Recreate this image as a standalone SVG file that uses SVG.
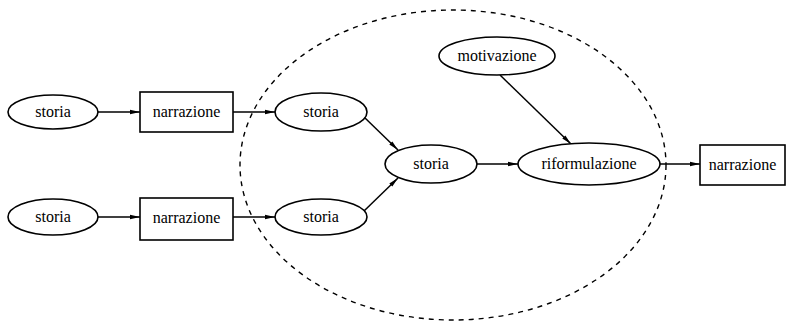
<svg xmlns="http://www.w3.org/2000/svg" width="787" height="321" viewBox="0 0 787 321">
<defs>
<style>
.n{fill:#fff;stroke:#000;stroke-width:1.6}
.t{font-family:"Liberation Serif",serif;font-size:16px;text-anchor:middle;fill:#000}
.c{stroke:#000;stroke-width:1.5;fill:none;marker-end:url(#a)}
</style>
<marker id="a" viewBox="0 0 10 6" refX="10" refY="3" markerWidth="10" markerHeight="6" markerUnits="userSpaceOnUse" orient="auto">
<path d="M0,0.8 L10,3 L0,5.2 Z" fill="#000"/>
</marker>
</defs>
<rect width="787" height="321" fill="#fff"/>
<ellipse cx="453" cy="165" rx="213" ry="155" fill="none" stroke="#000" stroke-width="1.4" stroke-dasharray="5,5"/>
<g id="connectors">
<line class="c" x1="98" y1="112" x2="140" y2="112"/>
<line class="c" x1="233" y1="112" x2="275" y2="112"/>
<line class="c" x1="98" y1="217" x2="140" y2="217"/>
<line class="c" x1="233" y1="217" x2="275" y2="217"/>
<line class="c" x1="364" y1="117" x2="398" y2="150"/>
<line class="c" x1="364" y1="211" x2="398" y2="178"/>
<line class="c" x1="477" y1="164" x2="518" y2="164"/>
<line class="c" x1="500" y1="75" x2="571" y2="144"/>
<line class="c" x1="660" y1="164" x2="700" y2="164"/>
</g>
<g id="storia1"><ellipse class="n" cx="53" cy="112" rx="45" ry="17"/><text class="t" x="53" y="117">storia</text></g>
<g id="narrazione1"><rect class="n" x="140" y="92" width="93" height="40"/><text class="t" x="186.5" y="117">narrazione</text></g>
<g id="storia2"><ellipse class="n" cx="53" cy="217" rx="45" ry="18"/><text class="t" x="53" y="222">storia</text></g>
<g id="narrazione2"><rect class="n" x="140" y="198" width="93" height="42"/><text class="t" x="186.5" y="223">narrazione</text></g>
<g id="storia3"><ellipse class="n" cx="321" cy="112" rx="46" ry="19"/><text class="t" x="321" y="117">storia</text></g>
<g id="storia4"><ellipse class="n" cx="321" cy="217" rx="46" ry="18"/><text class="t" x="321" y="222">storia</text></g>
<g id="storia5"><ellipse class="n" cx="431" cy="164" rx="46" ry="19"/><text class="t" x="431" y="169">storia</text></g>
<g id="motivazione"><ellipse class="n" cx="497" cy="56" rx="58" ry="19"/><text class="t" x="497" y="61">motivazione</text></g>
<g id="riformulazione"><ellipse class="n" cx="589" cy="164" rx="71" ry="21"/><text class="t" x="589" y="169">riformulazione</text></g>
<g id="narrazione3"><rect class="n" x="700" y="145" width="85" height="40"/><text class="t" x="742.5" y="170">narrazione</text></g>
</svg>
